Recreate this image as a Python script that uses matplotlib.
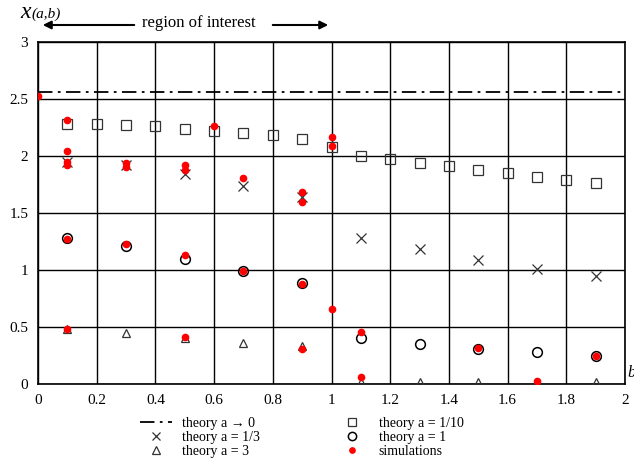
import matplotlib
matplotlib.use("Agg")
import matplotlib.pyplot as plt

plt.rcParams['font.family'] = ['Liberation Serif', 'DejaVu Serif']

# theory curves
b_tenth = [0.1, 0.2, 0.3, 0.4, 0.5, 0.6, 0.7, 0.8, 0.9, 1.0,
           1.1, 1.2, 1.3, 1.4, 1.5, 1.6, 1.7, 1.8, 1.9]
x_tenth = [2.28, 2.28, 2.27, 2.26, 2.24, 2.22, 2.20, 2.18, 2.15, 2.08,
           2.00, 1.97, 1.94, 1.91, 1.88, 1.85, 1.82, 1.79, 1.76]

b_odd = [0.1, 0.3, 0.5, 0.7, 0.9, 1.1, 1.3, 1.5, 1.7, 1.9]
x_third = [1.95, 1.92, 1.84, 1.74, 1.64, 1.28, 1.18, 1.09, 1.01, 0.95]
x_one = [1.28, 1.21, 1.10, 0.99, 0.886, 0.40, 0.35, 0.31, 0.28, 0.25]
x_three = [0.48, 0.45, 0.40, 0.36, 0.33, 0.02, 0.02, 0.02, 0.02, 0.02]

x_zero = 2.56

# simulations
b_sim = [0.0, 0.1, 0.1, 0.1, 0.1, 0.1, 0.1, 0.3, 0.3, 0.3,
         0.5, 0.5, 0.5, 0.5, 0.6, 0.7, 0.7, 0.9, 0.9, 0.9, 0.9,
         1.0, 1.0, 1.0, 1.1, 1.1, 1.5, 1.7, 1.9]
x_sim = [2.53, 2.32, 2.04, 1.95, 1.92, 1.27, 0.48, 1.94, 1.90, 1.23,
         1.92, 1.88, 1.13, 0.41, 2.26, 1.81, 0.99, 1.68, 1.60, 0.88, 0.31,
         2.17, 2.09, 0.66, 0.46, 0.06, 0.32, 0.03, 0.25]

W, H = 634, 461
fig = plt.figure(figsize=(W / 100, H / 100), dpi=100)
ax = fig.add_axes([38 / W, 1 - 384 / H, 587 / W, 342 / H])

ax.axhline(x_zero, color='black', lw=1.3, ls=(0, (8, 3, 1.5, 3)), label='theory a → 0', zorder=2)
ax.plot(b_odd, x_third, ls='none', marker='x', ms=6.5, mew=0.9, color='#333333',
        label='theory a = 1/3', zorder=3)
ax.plot(b_odd, x_three, ls='none', marker='^', ms=6, mfc='none', mew=0.9, color='#333333',
        label='theory a = 3', zorder=3)
ax.plot(b_tenth, x_tenth, ls='none', marker='s', ms=7, mfc='none', mew=0.9, color='#333333',
        label='theory a = 1/10', zorder=3)
ax.plot(b_odd, x_one, ls='none', marker='o', ms=7, mfc='none', mew=1.1, color='black',
        label='theory a = 1', zorder=3)
ax.plot(b_sim, x_sim, ls='none', marker='o', ms=4.5, color='red', mec='red',
        label='simulations', zorder=4)

ax.set_xlim(0, 2)
ax.set_ylim(0, 3)
ax.set_xticks([0, 0.2, 0.4, 0.6, 0.8, 1, 1.2, 1.4, 1.6, 1.8, 2])
ax.set_xticklabels(['0', '0.2', '0.4', '0.6', '0.8', '1', '1.2', '1.4', '1.6', '1.8', '2'])
ax.set_yticks([0, 0.5, 1, 1.5, 2, 2.5, 3])
ax.set_yticklabels(['0', '0.5', '1', '1.5', '2', '2.5', '3'])
ax.tick_params(length=0, labelsize=11, pad=7)
ax.grid(True, color='black', lw=1.0)
ax.set_axisbelow(True)
for s in ax.spines.values():
    s.set_linewidth(1.2)

# axis labels
fig.text(20 / W, 1 - 18 / H, 'x', fontsize=17, style='italic', va='baseline')
fig.text(31 / W, 1 - 18 / H, '(a,b)', fontsize=11, style='italic', va='baseline')
fig.text(627 / W, 1 - 373 / H, 'b', fontsize=12, style='italic', va='center')

# region of interest
ya = 1 - 25 / H
ax.annotate('', xy=(40 / W, ya), xytext=(137 / W, ya), xycoords='figure fraction',
            arrowprops=dict(arrowstyle='-|>', color='black', lw=1.5, mutation_scale=12))
ax.annotate('', xy=(331 / W, ya), xytext=(270 / W, ya), xycoords='figure fraction',
            arrowprops=dict(arrowstyle='-|>', color='black', lw=1.5, mutation_scale=12))
fig.text(199 / W, 1 - 23 / H, 'region of interest', ha='center', va='center', fontsize=12)

fig.legend(loc='upper left', bbox_to_anchor=(134 / W, 1 - 411 / H), ncol=2, frameon=False,
           fontsize=10, handlelength=2.3, handletextpad=0.75, columnspacing=5.5,
           labelspacing=0.1, borderaxespad=0, markerscale=0.85)

fig.savefig('out.png', dpi=100)
